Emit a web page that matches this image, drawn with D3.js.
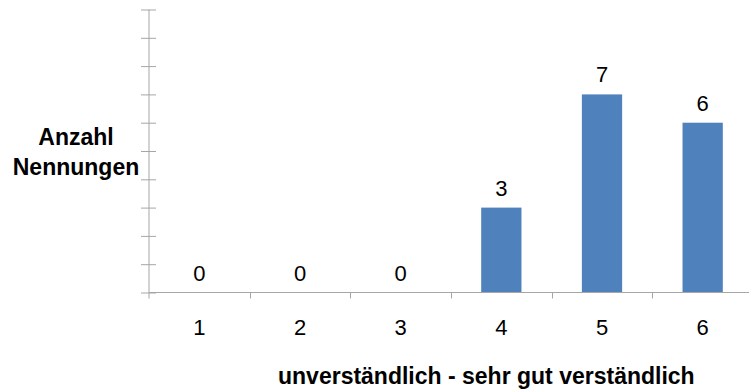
<!DOCTYPE html>
<html>
<head>
<meta charset="utf-8">
<script src="https://cdn.jsdelivr.net/npm/d3@7"></script>
<style>
  html, body { margin: 0; padding: 0; background: #fff; }
  text { font-family: "Liberation Sans", Arial, sans-serif; fill: #000; }
</style>
</head>
<body>
<svg id="chart" width="749" height="391"></svg>
<script>
// Ratings 1..6 and the number of mentions for each
const categories = ["1", "2", "3", "4", "5", "6"];
const counts = [0, 0, 0, 3, 7, 6];
const yTicks = [0, 1, 2, 3, 4, 5, 6, 7, 8, 9, 10];
const yTitle = ["Anzahl", "Nennungen"];
const xTitle = "unverständlich - sehr gut verständlich";

const svg = d3.select("#chart");
const plotLeft = 149, plotRight = 753, plotTop = 9.5, plotBottom = 292.5;
const axisColor = "#a6a6a6";

const x = d3.scaleBand().domain(categories).range([plotLeft, plotRight])
  .paddingInner(0.6).paddingOuter(0.3);
const xEdges = d3.scaleLinear().domain([0, categories.length]).range([plotLeft, plotRight]);
const y = d3.scaleLinear().domain([0, 10]).range([plotBottom, plotTop]);

// Bars
svg.append("g").selectAll("rect")
  .data(categories.map((c, i) => ({ c, v: counts[i] })))
  .join("rect")
  .attr("x", d => x(d.c))
  .attr("width", x.bandwidth())
  .attr("y", d => y(d.v))
  .attr("height", d => y(0) - y(d.v))
  .attr("fill", "#4f81bd");

// Y axis with ticks crossing the line
const yAxis = svg.append("g").attr("transform", `translate(${plotLeft},0)`)
  .call(d3.axisLeft(y).tickValues(yTicks).tickSize(8).tickFormat(""));
yAxis.select(".domain").remove();
yAxis.selectAll(".tick line").attr("x1", -8).attr("x2", 7).attr("stroke", axisColor);
svg.append("line").attr("x1", plotLeft).attr("x2", plotLeft)
  .attr("y1", y(10)).attr("y2", plotBottom + 6).attr("stroke", axisColor);

// X axis: baseline and ticks at category boundaries
svg.append("line").attr("x1", plotLeft).attr("x2", 749)
  .attr("y1", plotBottom).attr("y2", plotBottom).attr("stroke", axisColor);
svg.append("g").selectAll("line")
  .data(d3.range(1, categories.length + 1))
  .join("line")
  .attr("x1", d => Math.round(xEdges(d)) + 0.5).attr("x2", d => Math.round(xEdges(d)) + 0.5)
  .attr("y1", plotBottom).attr("y2", plotBottom + 6).attr("stroke", axisColor);

// Category labels
const xAxis = svg.append("g").attr("transform", `translate(0,${plotBottom})`)
  .call(d3.axisBottom(x).tickSize(0).tickPadding(0));
xAxis.select(".domain").remove();
xAxis.selectAll("text").attr("y", 42).attr("dy", null)
  .style("font-size", "22px").style("font-family", "Liberation Sans, Arial, sans-serif");

// Value labels
svg.append("g").selectAll("text")
  .data(categories.map((c, i) => ({ c, v: counts[i] })))
  .join("text")
  .attr("x", d => x(d.c) + x.bandwidth() / 2)
  .attr("y", d => y(d.v) - 12)
  .attr("text-anchor", "middle")
  .style("font-size", "22px")
  .text(d => d.v);

// Axis titles
svg.append("text").attr("text-anchor", "middle")
  .style("font-size", "23px").style("font-weight", "bold")
  .selectAll("tspan").data(yTitle).join("tspan")
  .attr("x", 76).attr("y", (d, i) => 145 + i * 30)
  .text(d => d);

svg.append("text").attr("x", 278).attr("y", 384)
  .attr("text-anchor", "start")
  .style("font-size", "23px").style("font-weight", "bold")
  .text(xTitle);
</script>
</body>
</html>
